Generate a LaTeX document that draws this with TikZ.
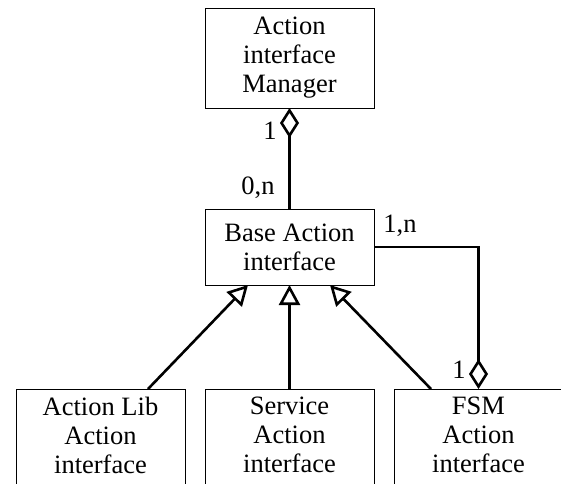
\documentclass[tikz,border=0pt]{standalone}
\usepackage{fontspec}
\setmainfont{Liberation Serif}
\usetikzlibrary{
        arrows.meta,
        positioning
    }
\tikzset{
    box/.style={draw, line width=0.9pt, rectangle, align=center, outer sep=0pt,
        minimum width=169pt, font=\fontsize{26.5}{29}\selectfont},
    lbl/.style={font=\fontsize{26.5}{29}\selectfont, inner sep=0pt},
    agg/.style={line width=2.6pt, {Diamond[open, length=30pt, width=19pt]}-},
    inh/.style={line width=2.6pt, -{Triangle[open, length=20pt, width=21pt]}}
}

\begin{document}
\begin{tikzpicture}[x=1pt,y=1pt]
    \useasboundingbox (0,0) rectangle (561,-483);
    \clip (0,0) rectangle (561,-483);
    \node[box, minimum height=100pt] (manager) at (289.5,-58) {Action\\interface\\Manager};
    \node[box, minimum height=76pt] (base) [below=101pt of manager] {Base Action\\interface};
    \node[box, minimum height=100pt, text depth=8pt] (service) [below=104pt of base] {Service\\Action\\interface};
    \node[box, minimum height=100pt, text depth=8pt] (lib) [left=20pt of service] {Action Lib\\Action\\interface};
    \node[box, minimum height=100pt, text depth=8pt] (fsm) [right=20pt of service] {FSM\\Action\\interface};
    % aggregation
    \draw[agg] (manager.south) -- (base.north);
    \draw[agg] (fsm.north) |- (base.east);
    % inheritance
    \draw[inh] ([xshift=47.5pt]lib.north) -- ([xshift=-41.5pt]base.south);
    \draw[inh] (service.north) -- (base.south);
    \draw[inh] ([xshift=-47.5pt]fsm.north) -- ([xshift=40.5pt]base.south);
    % multiplicities
    \node[lbl] (m1) at ([xshift=-19.5pt, yshift=-23pt]manager.south) {1};
    \node[lbl] (m0n) at ([xshift=-31.5pt, yshift=21pt]base.north) {0,n};
    \node[lbl] (m1n) at ([xshift=26pt, yshift=21pt]base.east) {1,n};
    \node[lbl] (m1f) at ([xshift=-19.5pt, yshift=19pt]fsm.north) {1};
\end{tikzpicture}
\end{document}
